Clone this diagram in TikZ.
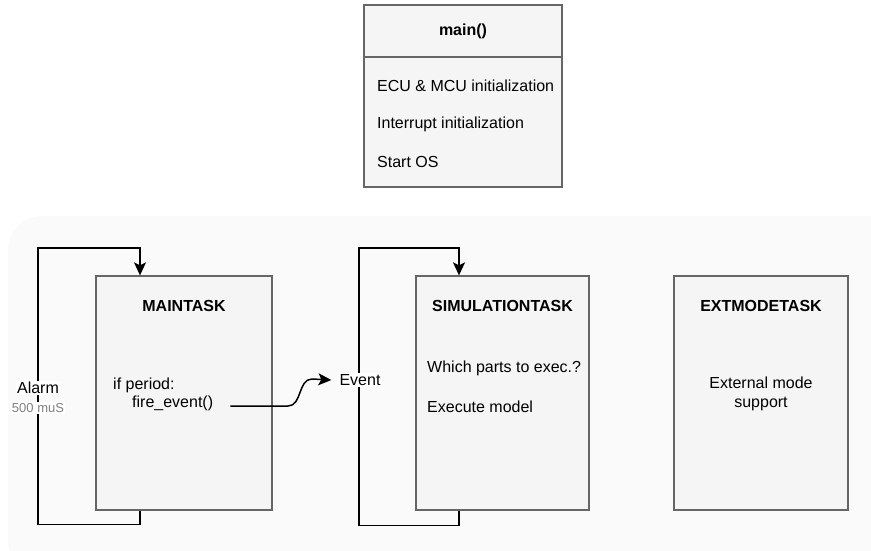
\documentclass[tikz,border=0pt]{standalone}
\usepackage{fontspec}
\setmainfont{Liberation Sans}
\usetikzlibrary{arrows.meta}
\definecolor{boxfill}{HTML}{F5F5F5}
\definecolor{boxline}{HTML}{666666}
\definecolor{panel}{HTML}{FAFAFA}
\definecolor{subtxt}{HTML}{808080}
\begin{document}
\begin{tikzpicture}[x=1pt,y=-1pt,
  every node/.style={font=\fontsize{16}{19}\selectfont, inner sep=0pt},
  taskbox/.style={draw=boxline, fill=boxfill, line width=1.3pt, rectangle},
  tasktitle/.style={font=\fontsize{16}{19}\selectfont\bfseries},
  txt/.style={anchor=west},
  flow/.style={draw=black, line width=1.5pt, -{Stealth[length=13pt,width=12pt,inset=3pt]}},
  lbl/.style={fill=white, inner sep=1pt}]
  \useasboundingbox (0,0) rectangle (871,550);
  % panel behind the three tasks
  \fill[panel, rounded corners=34pt] (8,216) rectangle (900,575);

  % main() box with header
  \node[taskbox, minimum width=198pt, minimum height=182pt] (main) at (463,96) {};
  \draw[boxline, line width=1.3pt] (main.west |- 0,57) -- (main.east |- 0,57);
  \node[tasktitle] (maint) at (463,31) {main()};
  \node[txt] (init1) at (377,86) {ECU \& MCU initialization};
  \node[txt] (init2) at (377,124) {Interrupt initialization};
  \node[txt] (init3) at (377,162) {Start OS};

  % task boxes
  \node[taskbox, minimum width=176pt, minimum height=234pt] (mtask) at (184,393) {};
  \node[taskbox, minimum width=173pt, minimum height=234pt] (stask) at (502.5,393) {};
  \node[taskbox, minimum width=174pt, minimum height=234pt] (etask) at (761,393) {};

  \node[tasktitle] (mtitle) at (184,306) {MAINTASK};
  \node[tasktitle] (stitle) at (502.5,306) {SIMULATIONTASK};
  \node[tasktitle] (etitle) at (761,306) {EXTMODETASK};

  \node[txt] (ifp) at (113,385) {if period:};
  \node[txt] (fire) at (132,403) {fire\_event()};
  \node[txt] (which) at (427,368) {Which parts to exec.?};
  \node[txt] (exec) at (427,407) {Execute model};
  \node[align=center] (ext) at (761,394) {External mode\\support};

  % periodic alarm loop of MAINTASK
  \draw[flow] ([xshift=-44pt]mtask.south) -- ++(0,14) -| (38,248) -| ([xshift=-44pt]mtask.north);
  \node[lbl] (alarm) at (38,388) {Alarm};
  \node[lbl, font=\fontsize{13}{15}\selectfont, text=subtxt] (period) at (38,408) {500 muS};

  % event loop of SIMULATIONTASK
  \draw[flow] ([xshift=-43.5pt]stask.south) -- ++(0,15) -| (359,248) -| ([xshift=-43.5pt]stask.north);
  \node[lbl] (event) at (360,380) {Event};

  % fire_event() raises the event
  \coordinate (fireout) at ([xshift=17pt,yshift=-3pt]fire.east);
  \draw[flow] (fireout) -- (288,406)
     .. controls (302,406) and (298,379) .. (312,379) -- ([xshift=-7pt]event.west);
\end{tikzpicture}
\end{document}
